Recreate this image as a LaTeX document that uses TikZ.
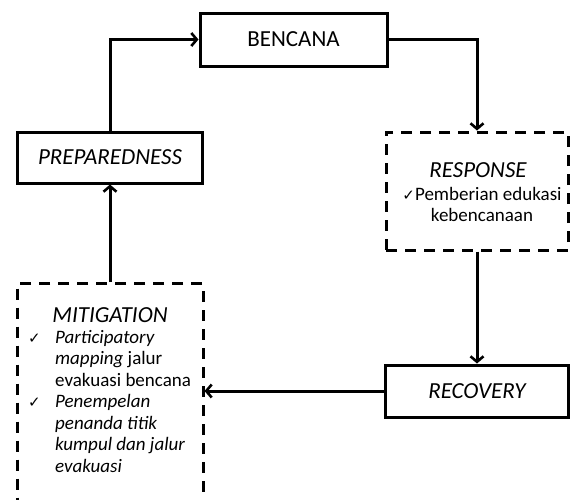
\documentclass[tikz,border=0pt]{standalone}
\usepackage{fontspec}
\setmainfont{Carlito}
\newfontfamily\symfont{DejaVu Sans}
\usetikzlibrary{arrows.meta}

\newcommand{\chk}{{\symfont\fontsize{15}{15}\selectfont ✓}}

\begin{document}
\begin{tikzpicture}[x=1pt,y=-1pt,
    box/.style={draw,line width=3pt,inner sep=0pt},
    dashbox/.style={box,dash pattern=on 11pt off 8pt},
    flow/.style={line width=3pt,-{Straight Barb[length=5.5pt,width=13pt,line width=2.6pt]}},
    big/.style={font=\fontsize{23}{27}\selectfont},
    small/.style={font=\fontsize{19}{21.5}\selectfont}]
    \useasboundingbox (0,0) rectangle (571,499);

    % boxes of the cycle
    \node[box,big,minimum width=187pt,minimum height=53pt] (bencana) at (293.5,39.5) {BENCANA};
    \node[box,big,minimum width=185pt,minimum height=51pt] (prep) at (110,157.5) {\itshape PREPAREDNESS};
    \node[dashbox,minimum width=182pt,minimum height=118pt] (resp) at (477,191) {};
    \node[box,big,minimum width=183pt,minimum height=52pt] (recov) at (477,391) {\itshape RECOVERY};
    \node[dashbox,minimum width=186pt,minimum height=250pt,anchor=north] (miti) at (110,282) {};

    % texts inside the dashed boxes
    \node[big,anchor=base] (resptitle) at (478,177) {\itshape RESPONSE};
    \node[small,anchor=base,inner sep=0pt] (resptext) at (482,200)
        {\begin{tabular}[t]{@{}c@{}}\chk Pemberian edukasi\\kebencanaan\end{tabular}};
    \node[big,anchor=base] (mititle) at (110,322) {\itshape MITIGATION};
    \node[small,anchor=base west,inner sep=0pt] (mitilist) at (28,343)
        {\begin{tabular}[t]{@{}p{27pt}@{}l@{}}
            \chk & \textit{Participatory}\\
                 & \textit{mapping} jalur\\
                 & evakuasi bencana\\
            \chk & \textit{Penempelan}\\
                 & \textit{penanda titik}\\
                 & \textit{kumpul dan jalur}\\
                 & \textit{evakuasi}
        \end{tabular}};

    % connectors
    \draw[flow] (prep.north) |- (bencana.west);
    \draw[flow] (bencana.east) -| (resp.north);
    \draw[flow] (resp.south) -- (recov.north);
    \draw[flow] (recov.west) -- (miti.east |- recov.west);
    \draw[flow] (miti.north) -- (prep.south);
\end{tikzpicture}
\end{document}
